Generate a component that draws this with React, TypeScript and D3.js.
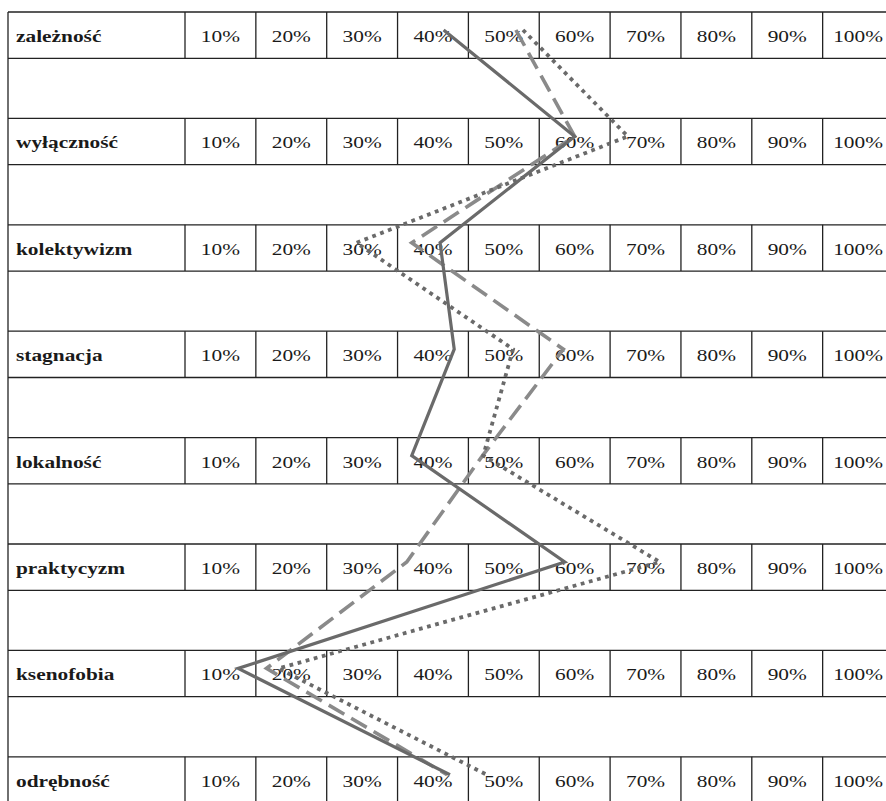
import React, { useEffect, useRef } from "react";
import * as d3 from "d3";

// row labels (top to bottom)
const categories = [
  "zależność",
  "wyłączność",
  "kolektywizm",
  "stagnacja",
  "lokalność",
  "praktycyzm",
  "ksenofobia",
  "odrębność",
];

// scale steps shown in each row
const steps = [10, 20, 30, 40, 50, 60, 70, 80, 90, 100];

// values, one per row
const solidValues = [41.5, 60, 41, 43, 37, 58.6, 12.5, 42.4];
const dashedValues = [51.7, 60, 37, 58.4, 47, 36.3, 16.5, 42];
const dottedValues = [52.7, 67.5, 29.2, 51.3, 47.1, 72, 18.2, 47.6];

const FONT = "Liberation Serif, Times New Roman, Tinos, DejaVu Serif, serif";

const App: React.FC = () => {
  const ref = useRef<SVGSVGElement | null>(null);

  useEffect(() => {
    const width = 886;
    const height = 801;
    const left = 8;
    const labelRight = 185;
    const cellW = 70.85;
    const rowH = 46.3;
    const period = 106.4;
    const top = 12;
    const stretch = 1.22; // the scan's type is a bit wide

    const svg = d3.select(ref.current);
    svg.selectAll("*").remove();
    svg.attr("width", width).attr("height", height);

    // value -> x; 10% sits at the centre of the first cell
    const x = d3
      .scaleLinear()
      .domain([5, 105])
      .range([labelRight, labelRight + cellW * 10]);
    const rightEdge = x(105);

    const rowTop = d3
      .scaleLinear()
      .domain([0, categories.length - 1])
      .range([top, top + period * (categories.length - 1)]);

    const grid = svg.append("g");
    const lineColor = "#222";

    // outer vertical borders run the whole height (gap rows included)
    const lastBottom = rowTop(categories.length - 1) + rowH;
    [left, rightEdge].forEach((xx) => {
      grid
        .append("line")
        .attr("x1", xx)
        .attr("x2", xx)
        .attr("y1", top)
        .attr("y2", lastBottom)
        .attr("stroke", lineColor)
        .attr("stroke-width", 1.3);
    });

    categories.forEach((cat, i) => {
      const y0 = rowTop(i);
      const y1 = y0 + rowH;
      [y0, y1].forEach((yy) => {
        grid
          .append("line")
          .attr("x1", left)
          .attr("x2", rightEdge)
          .attr("y1", yy)
          .attr("y2", yy)
          .attr("stroke", lineColor)
          .attr("stroke-width", 1.3);
      });
      // cell dividers
      [labelRight, ...steps.map((s) => x(s + 5))].forEach((xx) => {
        grid
          .append("line")
          .attr("x1", xx)
          .attr("x2", xx)
          .attr("y1", y0)
          .attr("y2", y1)
          .attr("stroke", lineColor)
          .attr("stroke-width", 1.3);
      });

      grid
        .append("text")
        .attr("transform", `translate(16,${y0 + 30}) scale(${stretch},1)`)
        .attr("font-family", FONT)
        .attr("font-size", 17.5)
        .attr("font-weight", "bold")
        .attr("fill", "#1a1a1a")
        .text(cat);

      steps.forEach((s) => {
        grid
          .append("text")
          .attr("transform", `translate(${x(s)},${y0 + 30}) scale(${stretch},1)`)
          .attr("text-anchor", "middle")
          .attr("font-family", FONT)
          .attr("font-size", 17.5)
          .attr("fill", "#1a1a1a")
          .text(`${s}%`);
      });
    });

    const pointY = (i: number) => rowTop(i) + 18;

    const line = d3
      .line<number>()
      .x((d) => x(d))
      .y((_, i) => pointY(i));

    const series = [
      { values: dashedValues, color: "#8a8a8a", width: 3.6, dash: "18 8" },
      { values: dottedValues, color: "#6a6a6a", width: 3.8, dash: "3.8 4.6" },
      { values: solidValues, color: "#6a6a6a", width: 3.2, dash: null },
    ];

    series.forEach((s) => {
      const p = svg
        .append("path")
        .datum(s.values)
        .attr("fill", "none")
        .attr("stroke", s.color)
        .attr("stroke-width", s.width)
        .attr("stroke-linejoin", "miter")
        .attr("d", line);
      if (s.dash) p.attr("stroke-dasharray", s.dash);
    });
  }, []);

  return (
    <svg
      ref={ref}
      style={{ position: "absolute", left: 0, top: 0, background: "#fff" }}
    ></svg>
  );
};

export default App;
